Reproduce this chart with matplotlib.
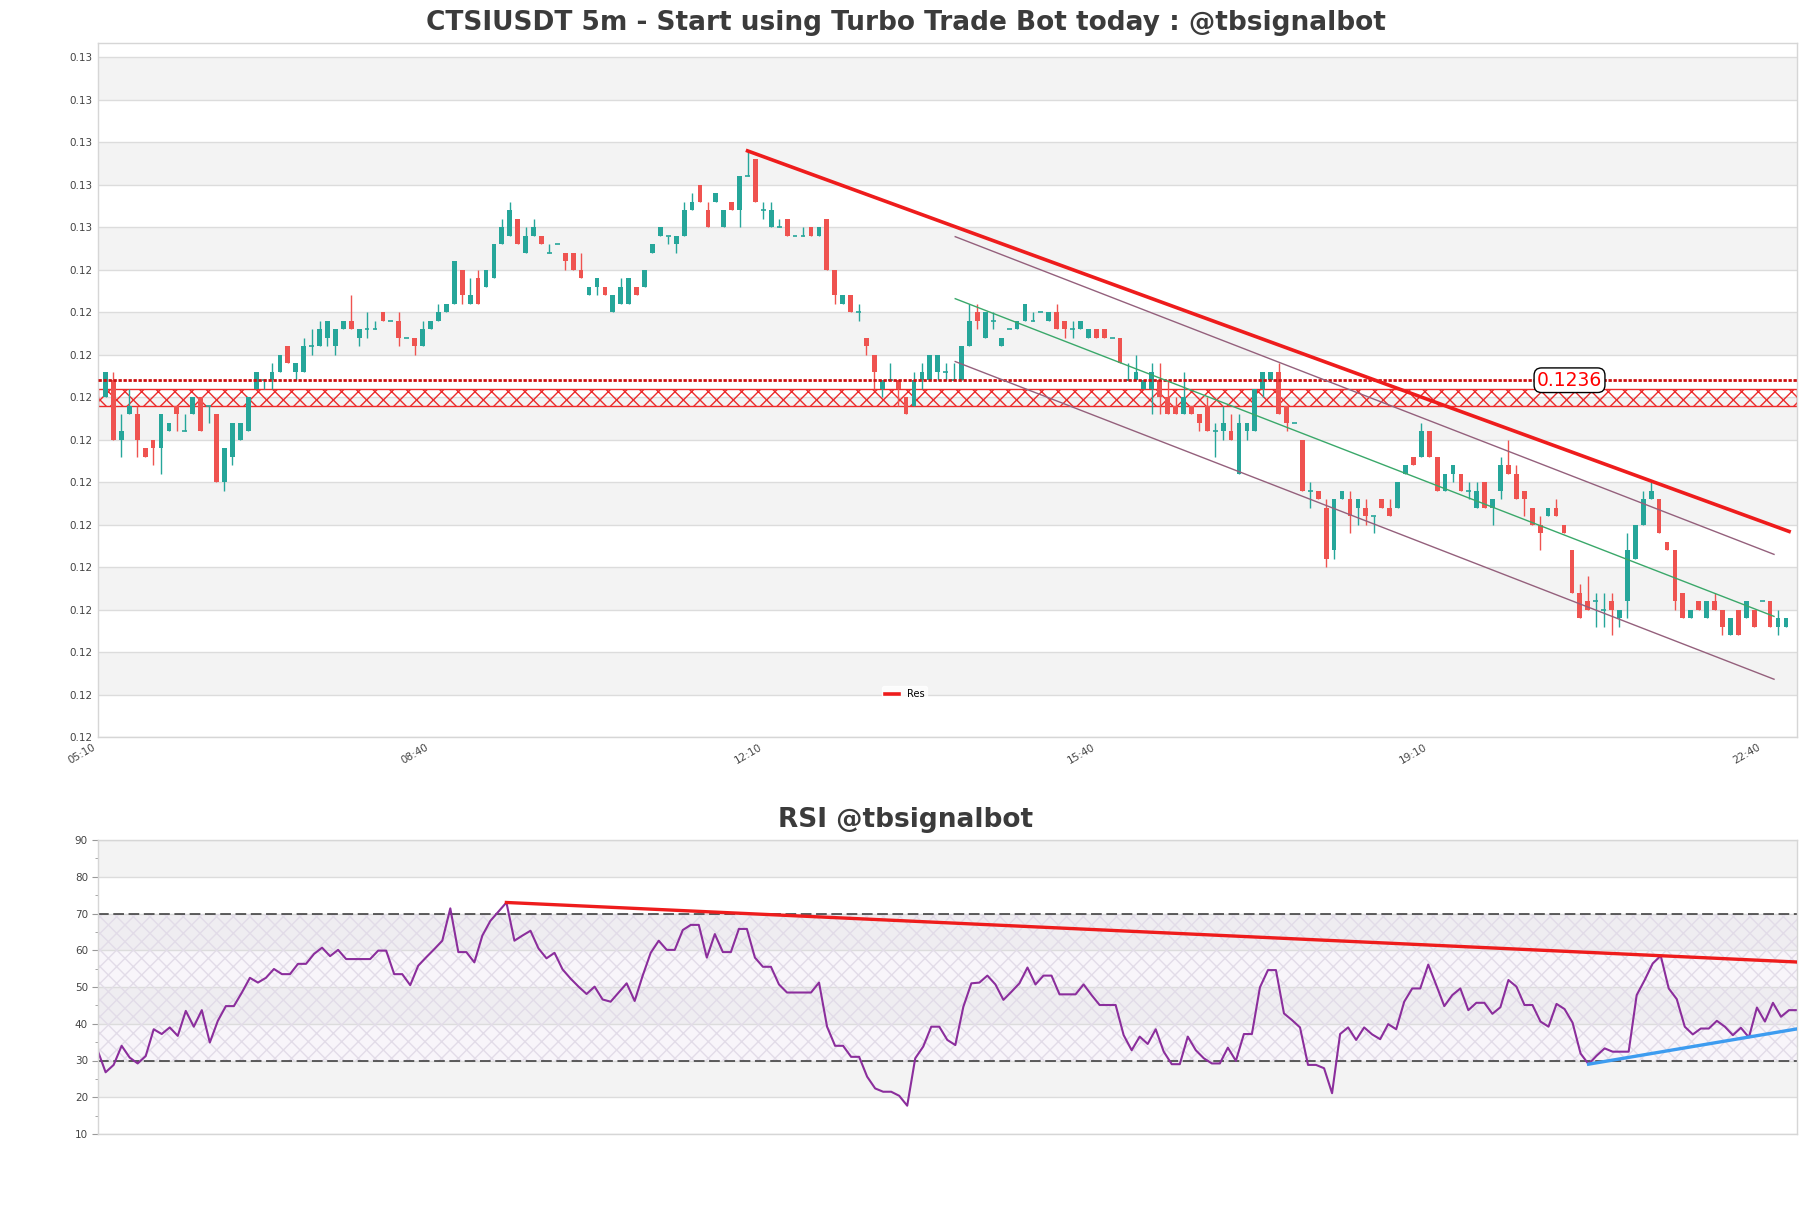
import matplotlib
matplotlib.use("Agg")
import matplotlib.pyplot as plt
import numpy as np

# ---------------- data ----------------
time_labels = ["05:10", "08:40", "12:10", "15:40", "19:10", "22:40"]
time_label_pos = [-1, 41, 83, 125, 167, 209]

opens = [
    0.1234, 0.1236, 0.1229, 0.1232, 0.1232, 0.1228, 0.1229, 0.1228, 0.1230, 0.1233,
    0.1230, 0.1232, 0.1234, 0.1233, 0.1232, 0.1224, 0.1227, 0.1229, 0.1230, 0.1235,
    0.1236, 0.1236, 0.1237, 0.1240, 0.1237, 0.1237, 0.1240, 0.1240, 0.1241, 0.1240,
    0.1242, 0.1243, 0.1241, 0.1242, 0.1242, 0.1244, 0.1243, 0.1243, 0.1241, 0.1241,
    0.1240, 0.1242, 0.1243, 0.1244, 0.1245, 0.1249, 0.1245, 0.1248, 0.1247, 0.1248,
    0.1252, 0.1253, 0.1255, 0.1251, 0.1253, 0.1253, 0.1251, 0.1252, 0.1251, 0.1251,
    0.1249, 0.1246, 0.1247, 0.1247, 0.1244, 0.1245, 0.1245, 0.1247, 0.1247, 0.1251,
    0.1253, 0.1253, 0.1252, 0.1253, 0.1256, 0.1259, 0.1256, 0.1257, 0.1254, 0.1257,
    0.1256, 0.1260, 0.1262, 0.1256, 0.1254, 0.1254, 0.1255, 0.1253, 0.1253, 0.1254,
    0.1253, 0.1255, 0.1249, 0.1245, 0.1246, 0.1244, 0.1241, 0.1239, 0.1235, 0.1236,
    0.1236, 0.1234, 0.1233, 0.1236, 0.1236, 0.1237, 0.1237, 0.1236, 0.1236, 0.1240,
    0.1244, 0.1241, 0.1243, 0.1240, 0.1242, 0.1242, 0.1243, 0.1243, 0.1244, 0.1243,
    0.1244, 0.1243, 0.1242, 0.1242, 0.1241, 0.1242, 0.1242, 0.1241, 0.1241, 0.1236,
    0.1236, 0.1235, 0.1235, 0.1236, 0.1234, 0.1233, 0.1232, 0.1233, 0.1232, 0.1233,
    0.1230, 0.1230, 0.1230, 0.1225, 0.1230, 0.1230, 0.1235, 0.1236, 0.1237, 0.1233,
    0.1231, 0.1229, 0.1223, 0.1223, 0.1221, 0.1216, 0.1222, 0.1222, 0.1221, 0.1221,
    0.1220, 0.1222, 0.1221, 0.1221, 0.1225, 0.1227, 0.1227, 0.1230, 0.1227, 0.1223,
    0.1225, 0.1225, 0.1223, 0.1221, 0.1224, 0.1221, 0.1223, 0.1226, 0.1225, 0.1223,
    0.1221, 0.1219, 0.1220, 0.1221, 0.1219, 0.1216, 0.1211, 0.1210, 0.1210, 0.1209,
    0.1210, 0.1208, 0.1210, 0.1215, 0.1219, 0.1222, 0.1222, 0.1217, 0.1216, 0.1211,
    0.1208, 0.1210, 0.1208, 0.1210, 0.1209, 0.1206, 0.1209, 0.1208, 0.1209, 0.1210,
    0.1210, 0.1207, 0.1207,
]
closes = [
    0.1237, 0.1229, 0.1230, 0.1233, 0.1229, 0.1227, 0.1228, 0.1232, 0.1231, 0.1232,
    0.1230, 0.1234, 0.1230, 0.1233, 0.1224, 0.1228, 0.1231, 0.1231, 0.1234, 0.1237,
    0.1236, 0.1237, 0.1239, 0.1238, 0.1238, 0.1240, 0.1240, 0.1242, 0.1243, 0.1242,
    0.1243, 0.1242, 0.1242, 0.1242, 0.1242, 0.1243, 0.1243, 0.1241, 0.1241, 0.1240,
    0.1242, 0.1243, 0.1244, 0.1245, 0.1250, 0.1246, 0.1246, 0.1245, 0.1249, 0.1252,
    0.1254, 0.1256, 0.1252, 0.1253, 0.1254, 0.1252, 0.1251, 0.1252, 0.1250, 0.1249,
    0.1248, 0.1247, 0.1248, 0.1246, 0.1246, 0.1247, 0.1248, 0.1246, 0.1249, 0.1252,
    0.1254, 0.1253, 0.1253, 0.1256, 0.1257, 0.1257, 0.1254, 0.1258, 0.1256, 0.1256,
    0.1260, 0.1260, 0.1257, 0.1256, 0.1256, 0.1254, 0.1253, 0.1253, 0.1253, 0.1253,
    0.1254, 0.1249, 0.1246, 0.1246, 0.1244, 0.1244, 0.1240, 0.1237, 0.1236, 0.1236,
    0.1235, 0.1232, 0.1236, 0.1237, 0.1239, 0.1239, 0.1237, 0.1236, 0.1240, 0.1243,
    0.1243, 0.1244, 0.1243, 0.1241, 0.1242, 0.1243, 0.1245, 0.1243, 0.1244, 0.1244,
    0.1242, 0.1242, 0.1242, 0.1243, 0.1242, 0.1241, 0.1241, 0.1241, 0.1238, 0.1236,
    0.1237, 0.1236, 0.1237, 0.1234, 0.1232, 0.1232, 0.1234, 0.1232, 0.1231, 0.1230,
    0.1230, 0.1231, 0.1229, 0.1231, 0.1231, 0.1235, 0.1237, 0.1237, 0.1232, 0.1231,
    0.1231, 0.1223, 0.1223, 0.1222, 0.1215, 0.1222, 0.1223, 0.1220, 0.1222, 0.1220,
    0.1220, 0.1221, 0.1220, 0.1224, 0.1226, 0.1226, 0.1230, 0.1227, 0.1223, 0.1225,
    0.1226, 0.1223, 0.1223, 0.1223, 0.1221, 0.1222, 0.1226, 0.1225, 0.1222, 0.1222,
    0.1219, 0.1218, 0.1221, 0.1220, 0.1218, 0.1211, 0.1208, 0.1209, 0.1210, 0.1209,
    0.1209, 0.1209, 0.1216, 0.1219, 0.1222, 0.1223, 0.1218, 0.1216, 0.1210, 0.1208,
    0.1209, 0.1209, 0.1210, 0.1209, 0.1207, 0.1208, 0.1206, 0.1210, 0.1207, 0.1210,
    0.1207, 0.1208, 0.1208,
]
highs = [
    0.1237, 0.1237, 0.1232, 0.1235, 0.1233, 0.1228, 0.1229, 0.1232, 0.1231, 0.1233,
    0.1232, 0.1234, 0.1234, 0.1233, 0.1232, 0.1228, 0.1231, 0.1231, 0.1234, 0.1237,
    0.1236, 0.1238, 0.1239, 0.1240, 0.1238, 0.1241, 0.1242, 0.1243, 0.1243, 0.1242,
    0.1243, 0.1246, 0.1242, 0.1244, 0.1243, 0.1244, 0.1243, 0.1244, 0.1241, 0.1241,
    0.1243, 0.1243, 0.1245, 0.1245, 0.1250, 0.1249, 0.1248, 0.1249, 0.1249, 0.1252,
    0.1255, 0.1257, 0.1255, 0.1254, 0.1255, 0.1253, 0.1252, 0.1252, 0.1251, 0.1251,
    0.1251, 0.1247, 0.1248, 0.1247, 0.1246, 0.1248, 0.1248, 0.1247, 0.1249, 0.1252,
    0.1254, 0.1253, 0.1253, 0.1257, 0.1258, 0.1259, 0.1257, 0.1258, 0.1256, 0.1257,
    0.1260, 0.1263, 0.1262, 0.1257, 0.1257, 0.1255, 0.1255, 0.1253, 0.1254, 0.1254,
    0.1254, 0.1255, 0.1249, 0.1246, 0.1246, 0.1245, 0.1241, 0.1239, 0.1236, 0.1238,
    0.1236, 0.1234, 0.1237, 0.1238, 0.1239, 0.1239, 0.1238, 0.1238, 0.1240, 0.1245,
    0.1245, 0.1244, 0.1244, 0.1241, 0.1242, 0.1243, 0.1245, 0.1244, 0.1244, 0.1244,
    0.1245, 0.1243, 0.1243, 0.1243, 0.1242, 0.1242, 0.1242, 0.1241, 0.1241, 0.1238,
    0.1239, 0.1236, 0.1238, 0.1238, 0.1236, 0.1234, 0.1237, 0.1233, 0.1232, 0.1234,
    0.1231, 0.1233, 0.1232, 0.1232, 0.1231, 0.1235, 0.1237, 0.1237, 0.1238, 0.1233,
    0.1231, 0.1229, 0.1224, 0.1223, 0.1222, 0.1222, 0.1223, 0.1223, 0.1222, 0.1222,
    0.1220, 0.1222, 0.1222, 0.1224, 0.1226, 0.1227, 0.1231, 0.1230, 0.1227, 0.1225,
    0.1226, 0.1225, 0.1224, 0.1224, 0.1224, 0.1222, 0.1227, 0.1229, 0.1226, 0.1223,
    0.1221, 0.1220, 0.1221, 0.1222, 0.1219, 0.1216, 0.1212, 0.1213, 0.1211, 0.1211,
    0.1211, 0.1209, 0.1218, 0.1219, 0.1223, 0.1224, 0.1222, 0.1217, 0.1216, 0.1211,
    0.1209, 0.1210, 0.1210, 0.1211, 0.1209, 0.1208, 0.1209, 0.1210, 0.1209, 0.1210,
    0.1210, 0.1209, 0.1208,
]
lows = [
    0.1234, 0.1229, 0.1227, 0.1232, 0.1227, 0.1227, 0.1226, 0.1225, 0.1230, 0.1230,
    0.1230, 0.1232, 0.1230, 0.1231, 0.1224, 0.1223, 0.1226, 0.1229, 0.1230, 0.1235,
    0.1235, 0.1235, 0.1237, 0.1238, 0.1236, 0.1237, 0.1239, 0.1240, 0.1240, 0.1239,
    0.1242, 0.1242, 0.1240, 0.1241, 0.1242, 0.1243, 0.1243, 0.1240, 0.1241, 0.1239,
    0.1240, 0.1242, 0.1243, 0.1244, 0.1245, 0.1245, 0.1245, 0.1245, 0.1247, 0.1248,
    0.1252, 0.1253, 0.1252, 0.1251, 0.1253, 0.1252, 0.1251, 0.1252, 0.1249, 0.1249,
    0.1248, 0.1246, 0.1246, 0.1246, 0.1244, 0.1245, 0.1245, 0.1246, 0.1247, 0.1251,
    0.1253, 0.1252, 0.1251, 0.1253, 0.1256, 0.1257, 0.1254, 0.1257, 0.1254, 0.1256,
    0.1254, 0.1260, 0.1257, 0.1255, 0.1254, 0.1254, 0.1253, 0.1253, 0.1253, 0.1253,
    0.1253, 0.1249, 0.1245, 0.1245, 0.1244, 0.1243, 0.1239, 0.1235, 0.1234, 0.1236,
    0.1233, 0.1232, 0.1233, 0.1235, 0.1236, 0.1236, 0.1236, 0.1236, 0.1236, 0.1240,
    0.1242, 0.1241, 0.1242, 0.1240, 0.1242, 0.1242, 0.1243, 0.1243, 0.1244, 0.1243,
    0.1242, 0.1241, 0.1241, 0.1242, 0.1241, 0.1241, 0.1241, 0.1241, 0.1238, 0.1236,
    0.1236, 0.1235, 0.1232, 0.1232, 0.1232, 0.1232, 0.1232, 0.1232, 0.1230, 0.1230,
    0.1227, 0.1229, 0.1229, 0.1225, 0.1229, 0.1230, 0.1234, 0.1236, 0.1232, 0.1230,
    0.1231, 0.1223, 0.1221, 0.1222, 0.1214, 0.1215, 0.1222, 0.1218, 0.1219, 0.1219,
    0.1218, 0.1221, 0.1220, 0.1221, 0.1225, 0.1226, 0.1227, 0.1227, 0.1223, 0.1223,
    0.1224, 0.1223, 0.1222, 0.1221, 0.1221, 0.1219, 0.1222, 0.1225, 0.1222, 0.1220,
    0.1219, 0.1216, 0.1220, 0.1220, 0.1218, 0.1211, 0.1208, 0.1209, 0.1207, 0.1207,
    0.1206, 0.1207, 0.1208, 0.1215, 0.1219, 0.1222, 0.1218, 0.1216, 0.1209, 0.1208,
    0.1208, 0.1209, 0.1208, 0.1209, 0.1206, 0.1206, 0.1206, 0.1208, 0.1207, 0.1210,
    0.1207, 0.1206, 0.1207,
]

rsi = [
    32.8, 26.8, 28.8, 34.0, 30.8, 29.2, 31.2, 38.5, 37.2, 39.0,
    36.7, 43.5, 39.2, 43.7, 34.9, 40.8, 44.8, 44.8, 48.5, 52.5,
    51.2, 52.5, 54.9, 53.5, 53.5, 56.3, 56.3, 59.0, 60.7, 58.4,
    60.1, 57.6, 57.6, 57.6, 57.6, 59.9, 59.9, 53.5, 53.5, 50.5,
    55.8, 58.1, 60.3, 62.6, 71.4, 59.5, 59.5, 56.7, 64.0, 68.0,
    70.5, 73.0, 62.6, 64.0, 65.3, 60.5, 57.8, 59.3, 54.8, 52.3,
    50.1, 48.1, 50.1, 46.6, 46.0, 48.5, 51.0, 46.2, 53.1, 59.3,
    62.6, 60.1, 60.1, 65.5, 66.9, 66.9, 58.0, 64.4, 59.5, 59.5,
    65.8, 65.8, 58.0, 55.5, 55.5, 50.7, 48.5, 48.5, 48.5, 48.5,
    51.2, 39.2, 34.0, 34.0, 31.0, 31.0, 25.6, 22.4, 21.5, 21.5,
    20.4, 17.7, 30.6, 33.8, 39.2, 39.2, 35.6, 34.2, 44.6, 51.0,
    51.2, 53.1, 50.7, 46.5, 48.7, 51.0, 55.3, 50.7, 53.1, 53.1,
    48.0, 48.0, 48.0, 50.7, 47.8, 45.1, 45.1, 45.1, 36.9, 32.8,
    36.5, 34.5, 38.5, 32.4, 29.0, 29.0, 36.5, 32.8, 30.6, 29.2,
    29.2, 33.5, 29.9, 37.2, 37.2, 49.9, 54.6, 54.6, 42.8, 41.0,
    39.0, 28.8, 28.8, 27.9, 21.1, 37.2, 39.0, 35.6, 39.0, 37.1,
    35.8, 39.9, 38.5, 46.0, 49.6, 49.6, 56.1, 50.5, 44.8, 47.8,
    49.6, 43.7, 45.7, 45.7, 42.7, 44.5, 51.9, 50.1, 45.1, 45.1,
    40.6, 39.2, 45.4, 44.0, 40.3, 31.9, 29.0, 31.3, 33.3, 32.4,
    32.4, 32.4, 47.8, 51.9, 56.4, 58.5, 49.6, 46.7, 39.2, 37.1,
    38.7, 38.7, 40.8, 39.2, 36.9, 38.9, 36.3, 44.4, 40.6, 45.7,
    41.9, 43.7, 43.7,
]

res_level = 0.1236
zone_low, zone_high = 0.1233, 0.1235
res_line_x = [81, 212.4]
res_line_y = [0.1263, 0.12182]
chan_x = [107.2, 210.5]
chan_upper = [0.12529, 0.12155]
chan_mid = [0.12456, 0.12082]
chan_lower = [0.12382, 0.12008]
rsi_res_x = [51, 212]
rsi_res_y = [73.0, 56.8]
rsi_sup_x = [186, 212]
rsi_sup_y = [29.0, 38.6]

price_ticks = [0.1194 + 0.0005 * k for k in range(17)]
rsi_ticks = [10, 20, 30, 40, 50, 60, 70, 80, 90]

# ---------------- figure ----------------
W, H = 1811, 1208
fig = plt.figure(figsize=(W / 100, H / 100), dpi=100)
ax = fig.add_axes([97.6 / W, 1 - 737 / H, (1797 - 97.6) / W, (737 - 43) / H])
axr = fig.add_axes([97.6 / W, 1 - 1134 / H, (1797 - 97.6) / W, (1134 - 840) / H])

GREEN = "#26a69a"
RED = "#ef5350"
BAND = "#f3f3f3"
GRID = "#dcdcdc"
SPINE = "#d6d6d6"
TXT = "#444444"

# ---- main panel ----
ax.set_xlim(-1, 213.4)
ax.set_ylim(0.1194, 0.12757)
for k in range(1, len(price_ticks) - 1, 2):
    ax.axhspan(price_ticks[k], price_ticks[k + 1], color=BAND, lw=0, zorder=0)
for t in price_ticks:
    ax.axhline(t, color=GRID, lw=1, zorder=0.5)

ax.axhspan(zone_low, zone_high, facecolor="none", edgecolor="#ec2a2a", hatch="xx", lw=1, zorder=1)

x = np.arange(len(opens))
o = np.array(opens); c = np.array(closes); h = np.array(highs); l = np.array(lows)
up = c >= o
cols = np.where(up, GREEN, RED)
ax.vlines(x, l, h, colors=cols, lw=1, zorder=2)
body_lo = np.minimum(o, c)
body_h = np.abs(c - o)
ax.bar(x, body_h, bottom=body_lo, width=0.6, color=cols, lw=0, zorder=2.1)
doji = body_h < 1e-9
ax.hlines(o[doji], x[doji] - 0.3, x[doji] + 0.3, colors=GREEN, lw=1.2, zorder=2.2)

ax.axhline(res_level, color="#cc1010", lw=2, ls=(0, (1.2, 0.6)), zorder=3)
ax.plot(chan_x, chan_upper, color="#94607c", lw=1, zorder=3)
ax.plot(chan_x, chan_lower, color="#94607c", lw=1, zorder=3)
ax.plot(chan_x, chan_mid, color="#3aa86a", lw=1, zorder=3)
res_handle, = ax.plot(res_line_x, res_line_y, color="#ee1c1c", lw=2.6, zorder=4, label="Res")

ax.text(184.7, res_level, "0.1236", color="red", fontsize=13.5, ha="center", va="center",
        zorder=5, bbox=dict(boxstyle="round,pad=0.15,rounding_size=0.4", fc="white", ec="black", lw=1))

ax.legend(handles=[res_handle], loc="center", bbox_to_anchor=(0.475, 0.062), fontsize=7,
          frameon=True, facecolor="white", edgecolor="white", handlelength=1.4, borderpad=0.3)

ax.set_yticks(price_ticks)
ax.set_yticklabels(["%.2f" % t for t in price_ticks])
ax.set_xticks(time_label_pos)
ax.set_xticklabels(time_labels, rotation=30, ha="right")
ax.tick_params(axis="both", length=0, labelsize=7.5, labelcolor=TXT, pad=4)
for s in ax.spines.values():
    s.set_color(SPINE)
    s.set_linewidth(1)

fig.text(0.5, 1 - 23 / H, "CTSIUSDT 5m - Start using Turbo Trade Bot today : @tbsignalbot",
         ha="center", va="center", fontsize=19, fontweight="bold", color="#3b3b3b")

# ---- RSI panel ----
axr.set_xlim(0, len(rsi) - 1)
axr.set_ylim(10, 90)
for lo_, hi_ in [(20, 30), (40, 50), (60, 70), (80, 90)]:
    axr.axhspan(lo_, hi_, color=BAND, lw=0, zorder=0)
for t in rsi_ticks:
    axr.axhline(t, color=GRID, lw=1, zorder=0.5)
axr.fill_between([0, len(rsi) - 1], 30, 70, facecolor="#f8f5fa", alpha=1.0, lw=0, zorder=0.4)
for lo_, hi_ in [(40, 50), (60, 70)]:
    axr.axhspan(lo_, hi_, color="#efedf1", lw=0, zorder=0.45)
axr.fill_between([0, len(rsi) - 1], 30, 70, facecolor="none", edgecolor="#e2dce8",
                 hatch="xx", lw=0, zorder=0.8)
axr.axhline(30, color="#333333", lw=1.1, ls=(0, (7, 3)), zorder=1)
axr.axhline(70, color="#333333", lw=1.1, ls=(0, (7, 3)), zorder=1)
axr.plot(np.arange(len(rsi)), rsi, color="#8b2e9c", lw=1.5, zorder=2)
axr.plot(rsi_res_x, rsi_res_y, color="#ee1c1c", lw=2.4, zorder=3)
axr.plot(rsi_sup_x, rsi_sup_y, color="#3d9cf0", lw=2.4, zorder=3)

axr.set_yticks(rsi_ticks)
axr.set_yticks([15, 25, 35, 45, 55, 65, 75, 85], minor=True)
axr.set_xticks([])
axr.tick_params(axis="y", which="major", length=4, color="#999999", labelsize=7.5,
                labelcolor=TXT, pad=3)
axr.tick_params(axis="y", which="minor", length=2, color="#999999")
for s in axr.spines.values():
    s.set_color(SPINE)
    s.set_linewidth(1)

fig.text(0.5, 1 - 820 / H, "RSI @tbsignalbot", ha="center", va="center",
         fontsize=19, fontweight="bold", color="#3b3b3b")

fig.savefig("out.png", dpi=100)
